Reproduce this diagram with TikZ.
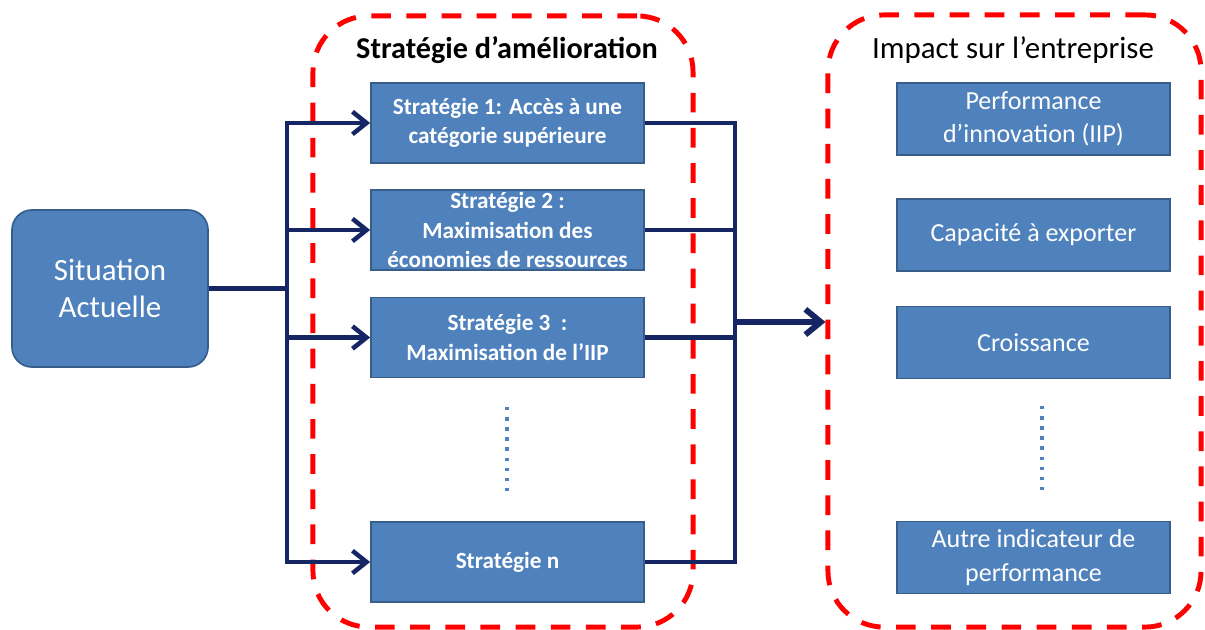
\documentclass[tikz,border=0pt]{standalone}
\usepackage{fontspec}
\setmainfont{Carlito}
\usetikzlibrary{arrows.meta}
\definecolor{boxblue}{RGB}{79,129,189}
\definecolor{boxedge}{RGB}{56,93,138}
\definecolor{navy}{RGB}{22,38,100}

\begin{document}
\begin{tikzpicture}[x=0.025cm,y=-0.025cm,
  bloc/.style={draw=boxedge,line width=1.2pt,fill=boxblue,text=white,align=center,inner xsep=2pt,inner ysep=0pt},
  strat/.style={bloc,minimum width=6.825cm,minimum height=2cm,font=\bfseries\fontsize{16.5}{21}\selectfont},
  effet/.style={bloc,minimum width=6.825cm,minimum height=1.8cm,font=\fontsize{18.5}{24}\selectfont},
  zone/.style={draw=red,line width=3.5pt,dash pattern=on 14pt off 11pt,rounded corners=1.4cm},
  lien/.style={navy,line width=3.2pt},
  fleche/.style={lien,-{Straight Barb[length=10pt,width=16pt]}},
  pointille/.style={boxblue,line width=2.4pt,dash pattern=on 2.4pt off 4.8pt}]
\useasboundingbox (0,0) rectangle (1205,630);

% the two dashed zones
\node[zone,minimum width=9.5cm,minimum height=15.275cm] (zoneS) at (503,321.5) {};
\node[zone,minimum width=9.325cm,minimum height=15.3cm] (zoneI) at (1014.5,321) {};
\node[font=\bfseries\fontsize{21.5}{26}\selectfont] (titreS) at (507,50) {Stratégie d’amélioration};
\node[font=\fontsize{22}{26}\selectfont] (titreI) at (1013,50) {Impact sur l’entreprise};

% starting point
\node[bloc,rounded corners=0.5cm,minimum width=4.9cm,minimum height=3.925cm,font=\fontsize{22}{26}\selectfont] (sit) at (110,288.5) {Situation\\Actuelle};

% strategies
\node[strat] (s1) at (507.5,123) {Stratégie 1: Accès à une\\catégorie supérieure};
\node[strat] (s2) at (507.5,230) {Stratégie 2 :\\Maximisation des\\économies de ressources};
\node[strat] (s3) at (507.5,337.5) {Stratégie 3~~:\\Maximisation de l’IIP};
\node[strat] (sn) at (507.5,562) {Stratégie n};
\draw[pointille] (507,407) -- (507,492);

% indicators
\node[effet] (i1) at (1033.5,119) {Performance\\d’innovation (IIP)};
\node[effet] (i2) at (1033.5,235) {Capacité à exporter};
\node[effet] (i3) at (1033.5,342.5) {Croissance};
\node[effet] (i4) at (1033.5,557.5) {Autre indicateur de\\performance};
\draw[pointille] (1042,406) -- (1042,493);

% fan out
\coordinate (jG) at (287,290);
\draw[lien] (sit.east) -- (sit.east -| jG);
\draw[lien,line cap=rect] (s1.west -| jG) -- (sn.west -| jG);
\foreach \s in {s1,s2,s3,sn} {
  \draw[fleche] (\s.west -| jG) -- (\s.west);
}

% fan in
\coordinate (jD) at (735,322);
\draw[lien] (s1.east) -| (sn.east -| jD) -- (sn.east);
\foreach \s in {s2,s3} {
  \draw[lien] (\s.east) -- (\s.east -| jD);
}
\draw[lien,line width=4.2pt,-{Straight Barb[length=11pt,width=18pt]}] (jD) -- (jD -| zoneI.west);
\end{tikzpicture}
\end{document}
